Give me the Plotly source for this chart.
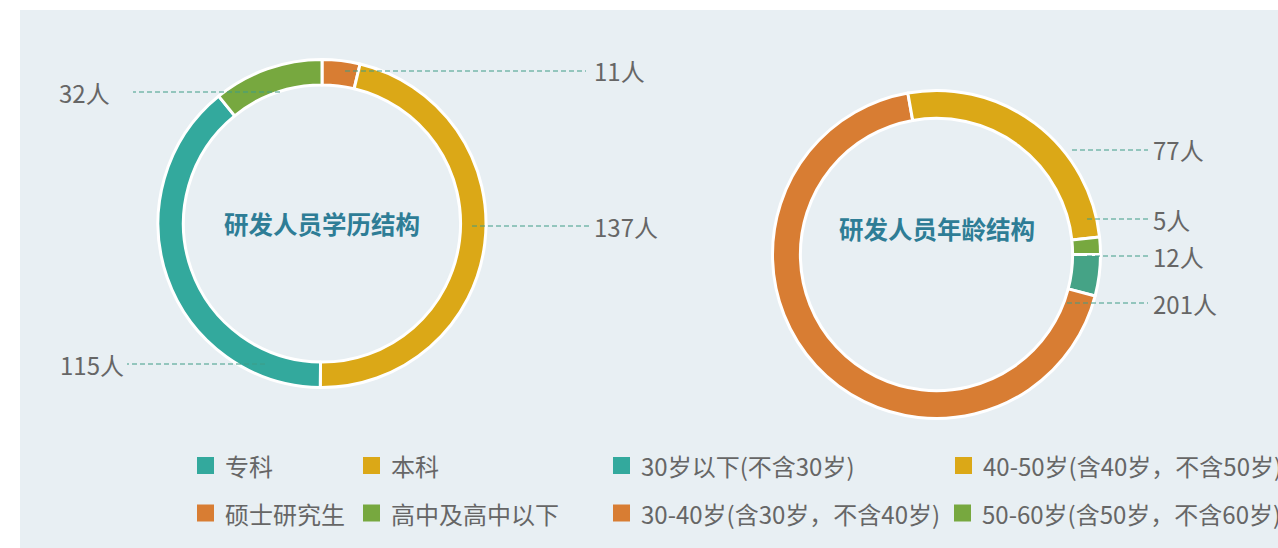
import plotly.graph_objects as go

W, H = 1278, 548

# ---------------- data ----------------
edu_labels = ["专科", "本科", "硕士研究生", "高中及高中以下"]
edu_values = [115, 137, 11, 32]
edu_colors = ["#33a99d", "#dba817", "#d87d33", "#77a83f"]
edu_draw_order = [2, 1, 0, 3]  # clockwise from 12 o'clock

age_labels = ["30岁以下(不含30岁)", "30-40岁(含30岁，不含40岁)",
              "40-50岁(含40岁，不含50岁)", "50-60岁(含50岁，不含60岁)"]
age_values = [12, 201, 77, 5]
age_slice_colors = ["#45a386", "#d87d33", "#dba817", "#77a83f"]
age_legend_colors = ["#33a99d", "#d87d33", "#dba817", "#77a83f"]

edu_title = "研发人员学历结构"
age_title = "研发人员年龄结构"
unit = "人"

# ---------------- layout constants (screen pixels) ----------------
FONT = "Noto Sans CJK SC"
TXT = "#666666"
LINE_C = "#3f9c87"
TITLE_C = "#2e7d96"
BG = "#e8eff3"

left_center, left_r, left_hole = (322, 223.5), 164, 0.845
right_center, right_r, right_hole = (936.5, 254.5), 164, 0.83

# label placement for each slice: (line_start_x, line_end_x, y, text_x, anchor)
edu_label_pos = [
    (265, 127, 364, 126, "right"),
    (472, 590, 226, 592, "left"),
    (345, 586, 71, 592, "left"),
    (280, 133, 92, 112, "right"),
]
age_label_pos = [
    (1087, 1148, 256, 1151, "left"),
    (1067, 1148, 303, 1151, "left"),
    (1072, 1148, 150, 1151, "left"),
    (1087, 1148, 219, 1151, "left"),
]

# legend grid: (square_x, y_center) for each item
edu_legend_pos = [(197, 465.5), (363, 465.5), (197, 513), (363, 513)]
age_legend_pos = [(613, 465.5), (613, 513), (955, 465.5), (954, 513)]


def px(x):
    return x / W


def py(y):
    return 1 - y / H


def domain(c, r):
    return dict(x=[px(c[0] - r), px(c[0] + r)], y=[py(c[1] + r), py(c[1] - r)])


fig = go.Figure()

fig.add_trace(go.Pie(
    labels=[edu_labels[i] for i in edu_draw_order],
    values=[edu_values[i] for i in edu_draw_order],
    hole=left_hole, sort=False, direction="clockwise", rotation=0,
    marker=dict(colors=[edu_colors[i] for i in edu_draw_order],
                line=dict(color="white", width=3)),
    textinfo="none", hoverinfo="label+value", showlegend=False,
    domain=domain(left_center, left_r),
))

fig.add_trace(go.Pie(
    labels=age_labels, values=age_values, hole=right_hole, sort=False,
    direction="clockwise", rotation=90,
    marker=dict(colors=age_slice_colors, line=dict(color="white", width=3)),
    textinfo="none", hoverinfo="label+value", showlegend=False,
    domain=domain(right_center, right_r),
))

shapes = [dict(type="rect", xref="paper", yref="paper", layer="below",
               x0=px(20), x1=px(W + 10), y0=py(H + 10), y1=py(10),
               fillcolor=BG, line=dict(width=0))]
annotations = []

for vals, positions in ((edu_values, edu_label_pos), (age_values, age_label_pos)):
    for v, (x0, x1, y, tx, side) in zip(vals, positions):
        shapes.append(dict(type="line", xref="paper", yref="paper", layer="above",
                           x0=px(x0), x1=px(x1), y0=py(y), y1=py(y),
                           line=dict(color=LINE_C, width=1, dash="5px,3px")))
        annotations.append(dict(xref="paper", yref="paper", x=px(tx), y=py(y),
                                xanchor=side, yanchor="middle", showarrow=False,
                                text=f"{v}{unit}",
                                font=dict(family=FONT, size=24, color=TXT)))

annotations.append(dict(xref="paper", yref="paper", x=px(left_center[0]), y=py(223),
                        xanchor="center", yanchor="middle", showarrow=False,
                        text=f"<b>{edu_title}</b>",
                        font=dict(family=FONT, size=24.5, color=TITLE_C)))
annotations.append(dict(xref="paper", yref="paper", x=px(right_center[0]), y=py(228),
                        xanchor="center", yanchor="middle", showarrow=False,
                        text=f"<b>{age_title}</b>",
                        font=dict(family=FONT, size=24.5, color=TITLE_C)))

SQ = 17
for labels, colors, positions in ((edu_labels, edu_colors, edu_legend_pos),
                                  (age_labels, age_legend_colors, age_legend_pos)):
    for lab, col, (sx, sy) in zip(labels, colors, positions):
        shapes.append(dict(type="rect", xref="paper", yref="paper",
                           x0=px(sx), x1=px(sx + SQ), y0=py(sy + SQ / 2), y1=py(sy - SQ / 2),
                           fillcolor=col, line=dict(width=0)))
        annotations.append(dict(xref="paper", yref="paper", x=px(sx + 26), y=py(sy),
                                xanchor="left", yanchor="middle", showarrow=False,
                                text=lab, font=dict(family=FONT, size=24, color=TXT)))

fig.update_layout(
    width=W, height=H,
    margin=dict(l=0, r=0, t=0, b=0),
    paper_bgcolor="white", plot_bgcolor="white",
    shapes=shapes, annotations=annotations,
    font=dict(family=FONT),
)

fig.write_html(
    "out.html",
    config={"displayModeBar": False},
    post_script="document.body.style.margin='0';document.body.style.overflow='hidden';",
)
